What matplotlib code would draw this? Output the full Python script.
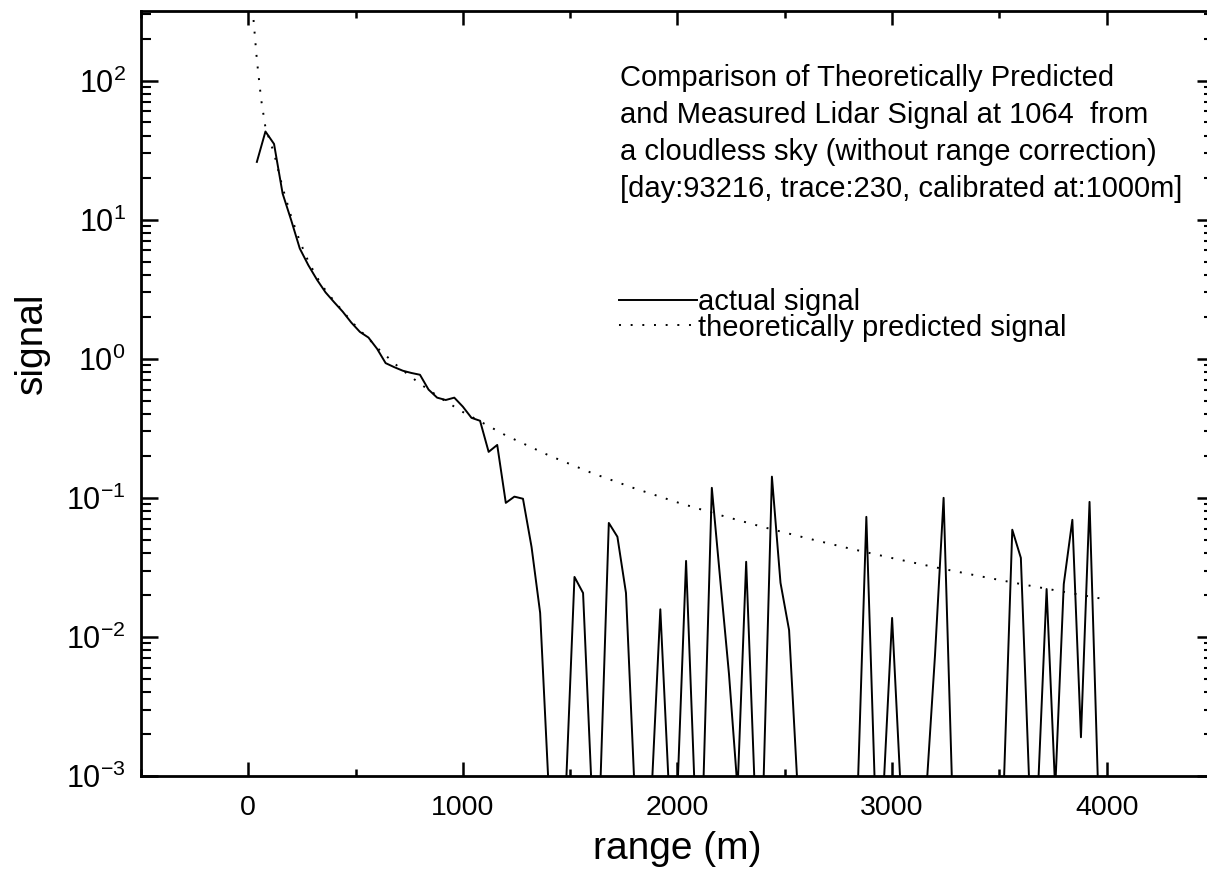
# Lidar signal vs range: measured vs theoretically predicted (1064)

import numpy as np
import matplotlib
matplotlib.use("Agg")
import matplotlib.pyplot as plt
from matplotlib.ticker import LogLocator, MultipleLocator, NullFormatter

plt.rcParams['font.family'] = ['Liberation Sans', 'DejaVu Sans']
plt.rcParams['mathtext.fontset'] = 'custom'
plt.rcParams['mathtext.rm'] = 'Liberation Sans'
plt.rcParams['mathtext.it'] = 'Liberation Sans:italic'
plt.rcParams['mathtext.bf'] = 'Liberation Sans:bold'

# measured signal, range bins every 40 m from 40 m to 4000 m
# (0.0008 = at or below the 1e-3 floor of the plot)
range_m = np.arange(40, 4001, 40)
signal = [26, 43, 35, 15.4, 9.9, 6.2, 4.7, 3.7, 3.0, 2.55,
          2.18, 1.82, 1.56, 1.42, 1.18, 0.93, 0.87, 0.82, 0.79, 0.767,
          0.60, 0.525, 0.505, 0.525, 0.452, 0.376, 0.358, 0.214, 0.240, 0.092,
          0.102, 0.0985, 0.0443, 0.0149,
          0.0008, 0.0008, 0.0008, 0.027, 0.0207, 0.0008, 0.0008, 0.066,
          0.0525, 0.0207, 0.0008, 0.0008, 0.0008, 0.0158, 0.0008, 0.0008,
          0.0352, 0.0008, 0.0008, 0.118, 0.025, 0.0054, 0.0008, 0.0347, 0.0008, 0.0008,
          0.142, 0.0245, 0.0112, 0.0008, 0.0008, 0.0008, 0.0008, 0.0008, 0.0008, 0.0008,
          0.0008, 0.073, 0.0008, 0.0008, 0.0137, 0.0008, 0.0008, 0.0008, 0.0008, 0.0074,
          0.100, 0.0008, 0.0008, 0.0008, 0.0008, 0.0008, 0.0008, 0.0008, 0.059, 0.037,
          0.0008, 0.0008, 0.0221, 0.0008, 0.024, 0.0695, 0.0019, 0.0935, 0.0008, 0.0008]

# theoretically predicted signal
theory_range = [20, 40, 60, 80, 120, 160, 200, 240, 280, 320, 360, 400, 440, 480,
                520, 560, 600, 700, 800, 900, 1000, 1200, 1400, 1600, 1800, 2000,
                2200, 2400, 2600, 2800, 3000, 3200, 3400, 3600, 3800, 3980]
theory_signal = [330, 141, 73, 46, 30, 17, 10.5, 7.0, 5.0, 3.85, 3.1, 2.6, 2.2, 1.86,
                 1.6, 1.4, 1.2, 0.873, 0.661, 0.517, 0.414, 0.281, 0.202, 0.151, 0.117, 0.0927,
                 0.075, 0.0616, 0.0514, 0.0433, 0.0369, 0.0317, 0.0275, 0.024, 0.0211, 0.0188]

x_ticks = [0, 1000, 2000, 3000, 4000]

info = ("Comparison of Theoretically Predicted\n"
        "and Measured Lidar Signal at 1064  from\n"
        "a cloudless sky (without range correction)\n"
        "[day:93216, trace:230, calibrated at:1000m]")

fig = plt.figure(figsize=(12.07, 8.92), dpi=100)
ax = fig.add_axes([0.1168, 0.130, 0.889, 0.8577])

ax.plot(range_m, signal, color='black', lw=1.4, label='actual signal')
ax.plot(theory_range, theory_signal, color='black', lw=1.4,
        linestyle=(0, (1, 5)), label='theoretically predicted signal')

ax.set_yscale('log')
ax.set_ylim(1e-3, 10 ** 2.5)
ax.set_xlim(-500, 4500)
ax.set_xticks(x_ticks)
ax.xaxis.set_minor_locator(MultipleLocator(500))
ax.yaxis.set_major_locator(LogLocator(base=10))
ax.yaxis.set_minor_locator(LogLocator(base=10, subs=np.arange(2, 10)))
ax.yaxis.set_minor_formatter(NullFormatter())

for s in ax.spines.values():
    s.set_linewidth(2)

ax.tick_params(which='both', direction='in', top=True, right=True, colors='black')
ax.tick_params(axis='y', which='major', length=12, width=1.8, pad=11, labelsize=22)
ax.tick_params(axis='y', which='minor', length=7, width=1.5)
ax.tick_params(axis='x', which='major', length=10, width=1.8, pad=14, labelsize=20.5)
ax.tick_params(axis='x', which='minor', length=5, width=1.8)

ax.set_xlabel('range (m)', fontsize=28)
ax.xaxis.set_label_coords(0.5, -0.072)
ax.set_ylabel('signal', fontsize=28)
ax.yaxis.set_label_coords(-0.085, 0.566)

fig.text(0.5137, 0.850, info, fontsize=21, va='center', ha='left', linespacing=1.41)

ax.legend(loc='upper left', bbox_to_anchor=(619 / 1207, 1 - 288 / 892),
          bbox_transform=fig.transFigure, frameon=False, fontsize=21,
          handlelength=2.67, handletextpad=0.05, labelspacing=-0.08,
          borderpad=0, borderaxespad=0)

fig.savefig("out.png", dpi=100)
